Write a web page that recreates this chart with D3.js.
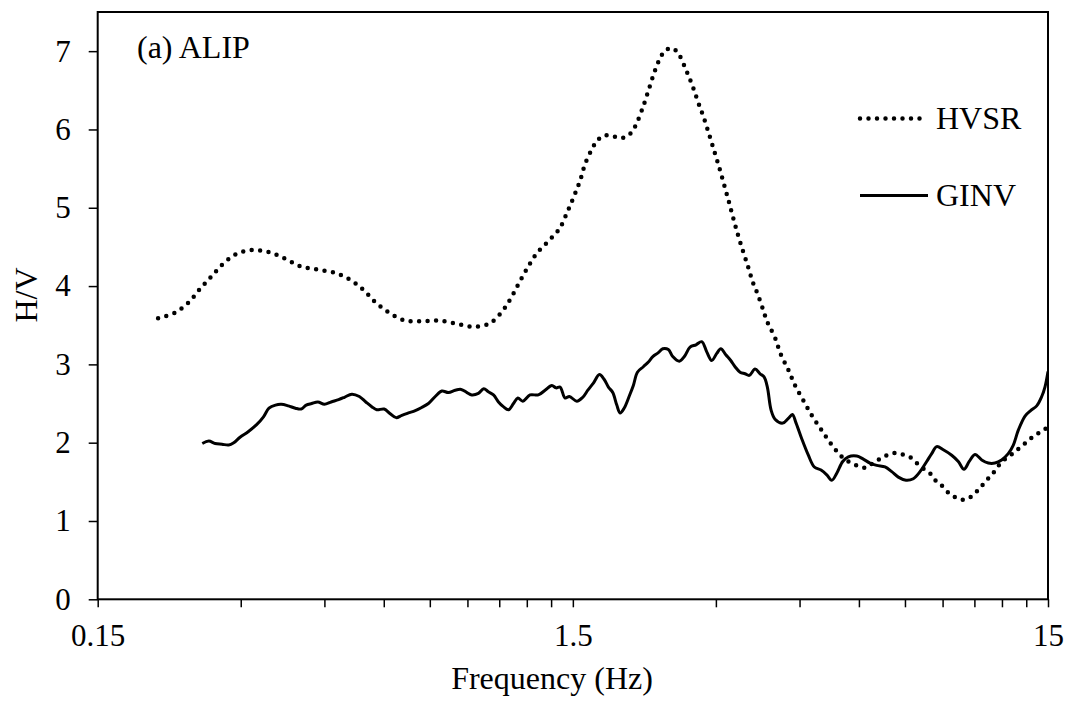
<!DOCTYPE html>
<html>
<head>
<meta charset="utf-8">
<script src="https://cdn.jsdelivr.net/npm/d3@7"></script>
<style>
  body { margin: 0; background: #fff; }
  svg text { font-family: "Liberation Serif", "Times New Roman", serif; fill: #000; }
</style>
</head>
<body>
<svg id="chart" width="1071" height="706"></svg>
<script>
// HVSR curve, [frequency (Hz), H/V]
let hvsr = [[0.201,3.59],[0.218,3.66],[0.233,3.79],[0.246,3.96],[0.260,4.12],[0.275,4.28],[0.294,4.41],[0.318,4.46],
    [0.345,4.43],[0.372,4.35],[0.402,4.25],[0.436,4.21],[0.474,4.17],[0.510,4.08],[0.544,3.95],[0.577,3.79],
    [0.616,3.66],[0.665,3.56],[0.721,3.55],[0.782,3.56],[0.852,3.52],[0.924,3.48],[1.000,3.52],[1.063,3.67],
    [1.112,3.85],[1.158,4.05],[1.206,4.24],[1.260,4.42],[1.335,4.58],[1.405,4.73],[1.461,4.95],[1.509,5.15],
    [1.554,5.35],[1.592,5.56],[1.649,5.76],[1.685,5.85],[1.739,5.92],[1.812,5.92],[1.886,5.89],[1.958,5.92],
    [2.011,6.00],[2.051,6.10],[2.111,6.30],[2.167,6.51],[2.224,6.72],[2.293,6.92],[2.349,7.01],[2.430,7.04],
    [2.506,6.96],[2.596,6.76],[2.677,6.56],[2.752,6.35],[2.829,6.15],[2.902,5.94],[2.974,5.73],[3.047,5.52],
    [3.117,5.31],[3.187,5.10],[3.256,4.89],[3.329,4.68],[3.411,4.47],[3.501,4.26],[3.587,4.05],[3.672,3.90],
    [3.771,3.70],[3.850,3.54],[3.996,3.34],[4.108,3.13],[4.262,2.93],[4.403,2.73],[4.583,2.54],[4.774,2.35],
    [4.994,2.17],[5.234,1.99],[5.521,1.82],[5.700,1.76],[5.937,1.71],[6.181,1.68],[6.385,1.73],[6.624,1.79],
    [6.866,1.84],[7.148,1.87],[7.420,1.85],[7.713,1.81],[7.940,1.74],[8.200,1.67],[8.499,1.60],[8.720,1.51],
    [9.008,1.44],[9.298,1.35],[9.605,1.30],[9.951,1.27],[10.33,1.31],[10.67,1.39],[10.96,1.47],[11.29,1.56],
    [11.60,1.64],[11.89,1.73],[12.24,1.80],[12.64,1.86],[13.05,1.93],[13.53,2.01],[13.97,2.08],[14.48,2.14],
    [15.0,2.20]]

// GINV curve, [frequency (Hz), H/V]
let ginv = [[0.249,1.99],[0.257,2.02],[0.265,1.99],[0.274,1.98],[0.283,1.97],[0.290,2.00],[0.299,2.07],[0.311,2.14],
    [0.324,2.23],[0.335,2.33],[0.344,2.44],[0.355,2.48],[0.365,2.49],[0.378,2.47],[0.391,2.44],[0.402,2.43],
    [0.412,2.48],[0.423,2.50],[0.436,2.52],[0.450,2.49],[0.465,2.52],[0.482,2.55],[0.496,2.58],[0.514,2.62],
    [0.533,2.59],[0.550,2.52],[0.566,2.46],[0.580,2.42],[0.601,2.43],[0.619,2.37],[0.637,2.32],[0.655,2.35],
    [0.676,2.38],[0.699,2.41],[0.721,2.45],[0.745,2.50],[0.770,2.59],[0.795,2.66],[0.821,2.64],[0.848,2.67],
    [0.873,2.68],[0.898,2.64],[0.919,2.61],[0.949,2.63],[0.974,2.69],[0.996,2.65],[1.021,2.61],[1.046,2.52],
    [1.071,2.46],[1.098,2.42],[1.125,2.50],[1.149,2.57],[1.177,2.53],[1.219,2.61],[1.269,2.61],[1.311,2.67],
    [1.355,2.73],[1.383,2.70],[1.410,2.71],[1.445,2.57],[1.475,2.59],[1.529,2.53],[1.574,2.58],[1.613,2.67],
    [1.657,2.76],[1.706,2.87],[1.745,2.81],[1.782,2.71],[1.820,2.64],[1.856,2.48],[1.886,2.38],[1.923,2.44],
    [1.970,2.59],[2.011,2.73],[2.051,2.90],[2.111,2.97],[2.163,3.03],[2.210,3.10],[2.270,3.15],[2.319,3.20],
    [2.383,3.19],[2.434,3.10],[2.513,3.04],[2.575,3.10],[2.647,3.22],[2.725,3.25],[2.801,3.29],[2.870,3.16],
    [2.940,3.05],[3.013,3.14],[3.072,3.20],[3.151,3.12],[3.224,3.05],[3.292,2.97],[3.373,2.90],[3.455,2.88],
    [3.528,2.86],[3.627,2.94],[3.716,2.88],[3.789,2.84],[3.850,2.71],[3.919,2.42],[3.996,2.30],[4.148,2.25],
    [4.262,2.31],[4.346,2.36],[4.425,2.25],[4.548,2.05],[4.696,1.84],[4.834,1.69],[4.994,1.65],[5.134,1.59],
    [5.260,1.52],[5.389,1.61],[5.547,1.76],[5.700,1.82],[5.937,1.83],[6.129,1.79],[6.332,1.74],[6.541,1.71],
    [6.809,1.69],[7.034,1.63],[7.262,1.56],[7.539,1.52],[7.809,1.54],[8.067,1.63],[8.333,1.76],[8.538,1.86],
    [8.747,1.95],[9.031,1.91],[9.406,1.84],[9.712,1.76],[9.984,1.66],[10.24,1.76],[10.53,1.85],[10.88,1.78],
    [11.23,1.74],[11.60,1.74],[11.98,1.78],[12.37,1.86],[12.68,1.97],[12.99,2.16],[13.42,2.34],[13.79,2.41],
    [14.20,2.47],[14.55,2.59],[14.78,2.71],[15.0,2.91]]

let xTicks = [0.15, 0.3, 0.45, 0.6, 0.75, 0.9, 1.05, 1.2, 1.35, 1.5, 3, 4.5, 6, 7.5, 9, 10.5, 12, 13.5, 15]
let xLabelTicks = [0.15, 1.5, 15]
let xTickLabels = ["0.15", "1.5", "15"]
let yTicks = [0, 1, 2, 3, 4, 5, 6, 7]
let legendLabels = ["HVSR", "GINV"]
let panelTitle = "(a) ALIP"
let xLabel = "Frequency (Hz)"
let yLabel = "H/V"

let plotLeft = 97.7, plotRight = 1048, plotTop = 12, plotBottom = 599.3
let tickFont = "31px"
let textFont = "32px"

let svg = d3.select("#chart")

let xScale = d3.scaleLog().domain([0.15, 15]).range([plotLeft, plotRight])
let yScale = d3.scaleLinear().domain([0, 7.5]).range([plotBottom, plotTop])

svg.append("clipPath").attr("id", "plot-clip")
    .append("rect")
    .attr("x", plotLeft).attr("y", plotTop)
    .attr("width", plotRight - plotLeft).attr("height", plotBottom - plotTop)

// x and y axis
let x_axis = d3.axisBottom(xScale)
    .tickValues(xTicks)
    .tickSize(8)
    .tickSizeOuter(0)
    .tickPadding(17)
    .tickFormat(function (d) {
        let i = xLabelTicks.indexOf(d)
        return i >= 0 ? xTickLabels[i] : ""
    })

let y_axis = d3.axisLeft(yScale)
    .tickValues(yTicks)
    .tickSize(9)
    .tickSizeOuter(0)
    .tickPadding(18)
    .tickFormat(d3.format("d"))

svg.append("g").attr("class", "axis")
    .attr("transform", `translate(0,${plotBottom})`)
    .call(x_axis)

svg.append("g").attr("class", "axis")
    .attr("transform", `translate(${plotLeft},0)`)
    .call(y_axis)

svg.selectAll(".axis").attr("font-family", null).attr("font-size", null)
svg.selectAll(".axis .domain").remove()
svg.selectAll(".axis line").attr("stroke", "#000").attr("stroke-width", 1.5)
svg.selectAll(".axis text").style("font-size", tickFont)

// curves
let line = d3.line()
    .x(function (d) { return xScale(d[0]) })
    .y(function (d) { return yScale(d[1]) })
    .curve(d3.curveCatmullRom.alpha(0.5))

let plot = svg.append("g").attr("clip-path", "url(#plot-clip)")

plot.append("path")
    .datum(hvsr)
    .attr("d", line)
    .attr("fill", "none")
    .attr("stroke", "#000")
    .attr("stroke-width", 4.5)
    .attr("stroke-linecap", "round")
    .attr("stroke-dasharray", "0 8.5")

plot.append("path")
    .datum(ginv)
    .attr("d", line)
    .attr("fill", "none")
    .attr("stroke", "#000")
    .attr("stroke-width", 3)
    .attr("stroke-linejoin", "round")

// frame
svg.append("rect")
    .attr("x", plotLeft).attr("y", plotTop)
    .attr("width", plotRight - plotLeft).attr("height", plotBottom - plotTop)
    .attr("fill", "none")
    .attr("stroke", "#000")
    .attr("stroke-width", 2)

// labels
svg.append("text")
    .attr("x", 552).attr("y", 689)
    .attr("text-anchor", "middle")
    .style("font-size", textFont)
    .text(xLabel)

svg.append("text")
    .attr("transform", `translate(${36.5},${295}) rotate(-90)`)
    .attr("text-anchor", "middle")
    .style("font-size", textFont)
    .text(yLabel)

svg.append("text")
    .attr("x", 137).attr("y", 58)
    .style("font-size", textFont)
    .text(panelTitle)

// legend
let legendStyles = [
    {dash: "0 8.5", width: 4.5, x2: 923, cap: "round"},
    {dash: null, width: 3, x2: 928, cap: "butt"}
]
legendLabels.forEach(function (d, i) {
    let lgnd = svg.append("g").attr("transform", `translate(${860},${118.5 + i * 77})`)
    lgnd.append("line")
        .attr("x1", 0).attr("x2", legendStyles[i].x2 - 860)
        .attr("y1", 0).attr("y2", 0)
        .attr("stroke", "#000")
        .attr("stroke-width", legendStyles[i].width)
        .attr("stroke-linecap", legendStyles[i].cap)
        .attr("stroke-dasharray", legendStyles[i].dash)
    lgnd.append("text")
        .attr("x", 76).attr("y", 10)
        .style("font-size", textFont)
        .text(d)
})
</script>
</body>
</html>
